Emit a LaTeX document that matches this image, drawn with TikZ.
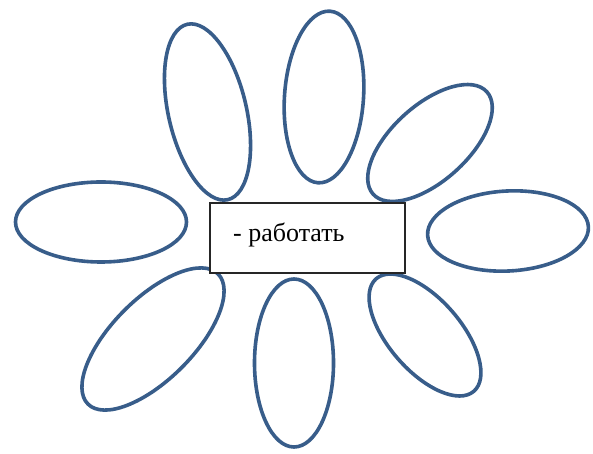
\documentclass[tikz,border=0pt]{standalone}
\usepackage{fontspec}
\setmainfont{Liberation Serif}
\usepackage{tikz}
\usetikzlibrary{shapes.geometric}
\usepackage{xcolor}
\definecolor{petalblue}{RGB}{56, 93, 138}

\begin{document}
\begin{tikzpicture}[x=1pt, y=1pt,
    petal/.style={ellipse, draw=petalblue, line width=3.6pt, fill=white,
                  inner sep=0pt},
    wordbox/.style={rectangle, draw=black!85, line width=1.2pt, fill=white,
                    minimum width=195pt, minimum height=70pt, inner sep=0pt}]
    \useasboundingbox[fill=white] (0,0) rectangle (593,454);
    % petals round the box
    \node[petal, minimum width=171pt, minimum height=80pt]              (pW)  at (101,232) {};
    \node[petal, minimum width=180pt, minimum height=78pt, rotate=103]  (pNW) at (207.5,342) {};
    \node[petal, minimum width=172pt, minimum height=79pt, rotate=86]   (pN)  at (324,357) {};
    \node[petal, minimum width=153pt, minimum height=76pt, rotate=42]   (pNE) at (430,311) {};
    \node[petal, minimum width=161pt, minimum height=80pt, rotate=3]    (pE)  at (508,223) {};
    \node[petal, minimum width=149pt, minimum height=72pt, rotate=-49]  (pSE) at (425,119) {};
    \node[petal, minimum width=168pt, minimum height=79pt, rotate=90]   (pS)  at (294,91)  {};
    \node[petal, minimum width=184pt, minimum height=81pt, rotate=45]   (pSW) at (153,115) {};
    % centre
    \node[wordbox] (box) at (307.5,216) {};
    \node[anchor=base west, inner sep=0pt, font=\fontsize{26}{31}\selectfont]
      (word) at (233,212) {- работать};
\end{tikzpicture}
\end{document}
